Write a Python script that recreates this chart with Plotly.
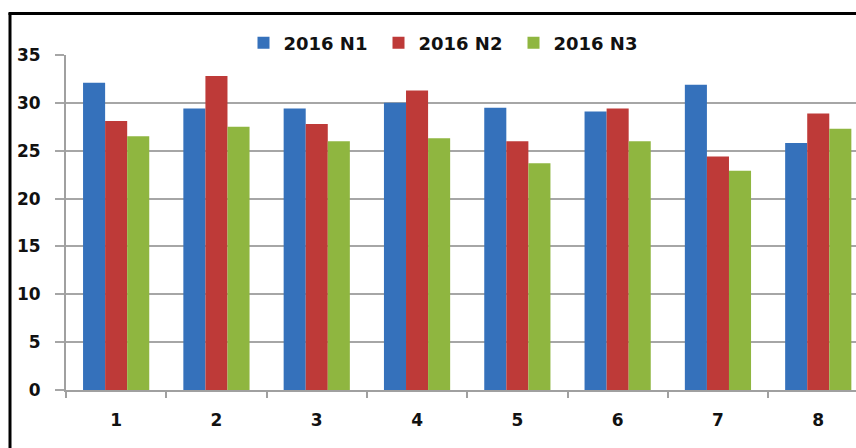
import plotly.graph_objects as go

categories = ["1", "2", "3", "4", "5", "6", "7", "8"]
n1 = [32.1, 29.4, 29.4, 30.0, 29.5, 29.1, 31.9, 25.8]
n2 = [28.1, 32.8, 27.8, 31.3, 26.0, 29.4, 24.4, 28.9]
n3 = [26.5, 27.5, 26.0, 26.3, 23.7, 26.0, 22.9, 27.3]
series_names = ["2016 N1", "2016 N2", "2016 N3"]
colors = ["#3571bb", "#be3a38", "#8fb640"]
y_ticks = [0, 5, 10, 15, 20, 25, 30, 35]

W, H = 856, 448
L, R, T, B = 66, 0, 55, 58
pw, ph = W - L - R, H - T - B

def px_x(px):
    return (px - L) / pw

def px_y(py):
    return (H - B - py) / ph

FONT = "DejaVu Sans"

fig = go.Figure()
for name, vals, col in zip(series_names, [n1, n2, n3], colors):
    fig.add_trace(go.Bar(x=categories, y=vals, name=name,
                         marker=dict(color=col, line=dict(width=0))))

# visible span of categories (chart is cut on the right)
cat_px = 100.3
span = pw / cat_px

fig.update_layout(
    width=W, height=H,
    margin=dict(l=L, r=R, t=T, b=B, pad=0, autoexpand=False),
    paper_bgcolor="white", plot_bgcolor="white",
    barmode="group", bargap=0.34, bargroupgap=0,
    font=dict(family=FONT, size=17, color="#111111"),
    legend=dict(orientation="h", x=px_x(446), xanchor="center",
                y=px_y(43), yanchor="middle",
                font=dict(family=FONT, size=18, color="#111111", weight="bold"),
                entrywidth=90, entrywidthmode="pixels",
                bgcolor="rgba(0,0,0,0)", itemclick=False),
    xaxis=dict(type="category", range=[-0.5, -0.5 + span],
               showgrid=False, showline=True, linecolor="#a0a0a0", linewidth=2,
               ticks="outside", tickson="boundaries", ticklen=6, tickcolor="#a0a0a0",
               tickwidth=2, ticklabelstandoff=14,
               tickfont=dict(family=FONT, size=17, color="#111111", weight="bold")),
    yaxis=dict(range=[0, 35], tickvals=y_ticks, showgrid=True,
               gridcolor="#a6a6a6", gridwidth=2, zeroline=False,
               showline=True, linecolor="#a0a0a0", linewidth=2,
               ticks="outside", ticklen=9, tickcolor="#a6a6a6", tickwidth=2,
               ticklabelstandoff=11,
               tickfont=dict(family=FONT, size=17, color="#111111", weight="bold")),
)

# chart frame (left and top borders)
fig.add_shape(type="line", xref="paper", yref="paper",
              x0=px_x(10), x1=px_x(10), y0=px_y(13), y1=px_y(460),
              line=dict(color="black", width=3))
fig.add_shape(type="line", xref="paper", yref="paper",
              x0=px_x(8.5), x1=px_x(870), y0=px_y(13.5), y1=px_y(13.5),
              line=dict(color="black", width=3))

fig.write_html("out.html",
               config={"displayModeBar": False},
               post_script="document.body.style.margin='0';document.body.style.overflow='hidden';")
